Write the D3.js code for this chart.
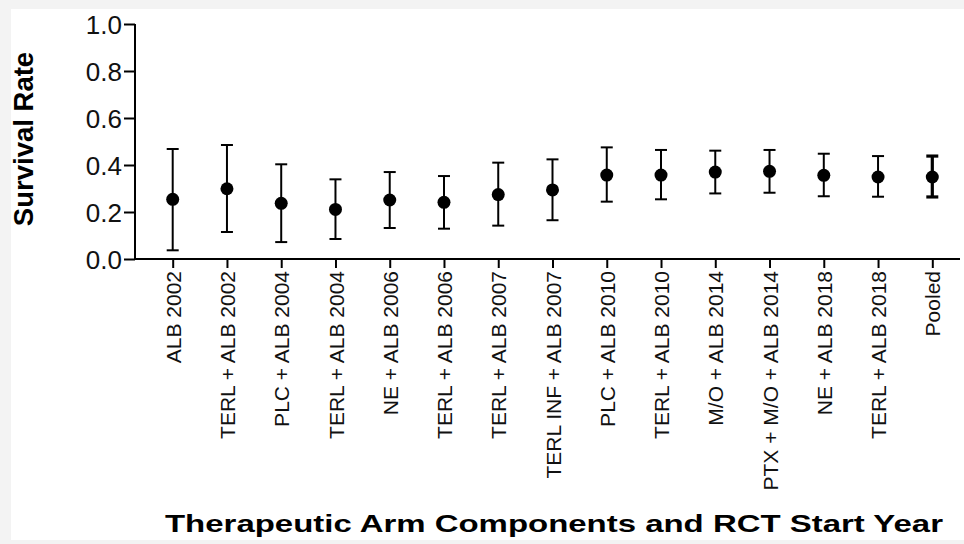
<!DOCTYPE html>
<html>
<head>
<meta charset="utf-8">
<script src="https://cdn.jsdelivr.net/npm/d3@7"></script>
<style>
  body { margin: 0; background: #f3f3f3; }
  svg { display: block; }
</style>
</head>
<body>
<svg id="chart" width="964" height="544"></svg>
<script>
// arms in the order of the x axis
const arms = [
    "ALB 2002", "TERL + ALB 2002", "PLC + ALB 2004", "TERL + ALB 2004",
    "NE + ALB 2006", "TERL + ALB 2006", "TERL + ALB 2007", "TERL INF + ALB 2007",
    "PLC + ALB 2010", "TERL + ALB 2010", "M/O + ALB 2014", "PTX + M/O + ALB 2014",
    "NE + ALB 2018", "TERL + ALB 2018", "Pooled"
];
// survival rate and CI bounds
const rate  = [0.254, 0.299, 0.237, 0.211, 0.251, 0.241, 0.274, 0.294, 0.357, 0.357, 0.370, 0.373, 0.356, 0.349, 0.349];
const lower = [0.037, 0.115, 0.072, 0.085, 0.132, 0.129, 0.142, 0.165, 0.244, 0.254, 0.279, 0.282, 0.267, 0.265, 0.264];
const upper = [0.468, 0.485, 0.403, 0.339, 0.370, 0.353, 0.410, 0.424, 0.475, 0.464, 0.461, 0.464, 0.448, 0.438, 0.438];
const yTicks = [0, 0.2, 0.4, 0.6, 0.8, 1.0];

const data = arms.map((a, i) => ({ arm: a, rate: rate[i], lo: lower[i], hi: upper[i] }));

const svg = d3.select("#chart");
svg.append("rect").attr("x", 11).attr("y", 9).attr("width", 953).attr("height", 531).attr("fill", "#fff");

const mLeft = 135, mRight = 960, mTop = 24, mBottom = 259;
const font = "Liberation Sans, Arial, sans-serif";

const x = d3.scalePoint().domain(arms).range([172.7, 932.3]);
const y = d3.scaleLinear().domain([0, 1]).range([mBottom, mTop]);

// y axis
const yAxis = svg.append("g")
    .attr("transform", `translate(${mLeft},0)`)
    .call(d3.axisLeft(y).tickValues(yTicks).tickFormat(d3.format(".1f")).tickSize(11).tickPadding(2));
yAxis.select(".domain").attr("stroke-width", 2).attr("d", `M0,${mTop}V${mBottom}`);
yAxis.selectAll(".tick line").attr("stroke-width", 2);
yAxis.selectAll(".tick text")
    .attr("font-family", font)
    .attr("font-size", 26).attr("fill", "#111").attr("dy", "0.36em");

// x axis
const xAxis = svg.append("g")
    .attr("transform", `translate(0,${mBottom})`)
    .call(d3.axisBottom(x).tickSize(9).tickPadding(3));
xAxis.select(".domain").attr("stroke-width", 2).attr("d", `M${mLeft},0H${mRight}`);
xAxis.selectAll(".tick line").attr("stroke-width", 2);
xAxis.selectAll(".tick text")
    .attr("font-family", font)
    .attr("font-size", 21).attr("fill", "#111")
    .attr("transform", "rotate(-90)")
    .attr("text-anchor", "end")
    .attr("x", -12).attr("y", 0).attr("dy", "0.36em");

// error bars
const capW = 6;
const bars = svg.append("g").selectAll("g").data(data).join("g")
    .attr("stroke", "#000")
    .attr("stroke-width", d => d.arm === "Pooled" ? 3.2 : 2);
bars.append("line")
    .attr("x1", d => x(d.arm)).attr("x2", d => x(d.arm))
    .attr("y1", d => y(d.lo)).attr("y2", d => y(d.hi));
bars.append("line")
    .attr("x1", d => x(d.arm) - capW).attr("x2", d => x(d.arm) + capW)
    .attr("y1", d => y(d.hi)).attr("y2", d => y(d.hi));
bars.append("line")
    .attr("x1", d => x(d.arm) - capW).attr("x2", d => x(d.arm) + capW)
    .attr("y1", d => y(d.lo)).attr("y2", d => y(d.lo));

svg.append("g").selectAll("circle").data(data).join("circle")
    .attr("cx", d => x(d.arm)).attr("cy", d => y(d.rate))
    .attr("r", 6.5).attr("fill", "#000");

// axis titles
svg.append("text")
    .attr("transform", `translate(33,139) rotate(-90)`)
    .attr("text-anchor", "middle")
    .attr("font-family", font)
    .attr("font-weight", "bold").attr("font-size", 27.5)
    .text("Survival Rate");

svg.append("text")
    .attr("x", 165).attr("y", 532)
    .attr("font-family", font)
    .attr("font-weight", "bold").attr("font-size", 24.5)
    .attr("textLength", 778).attr("lengthAdjust", "spacingAndGlyphs")
    .text("Therapeutic Arm Components and RCT Start Year");
</script>
</body>
</html>
